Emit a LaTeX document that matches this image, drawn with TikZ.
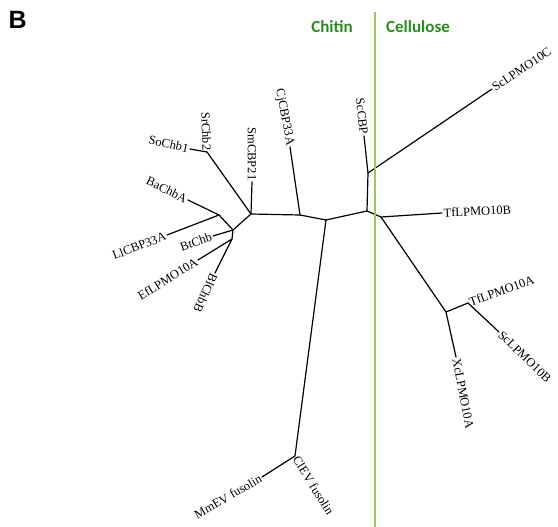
\documentclass[tikz,border=0pt]{standalone}
\usepackage{fontspec}
\setmainfont{Liberation Serif}
\newfontfamily\greenfont{Carlito}
\newfontfamily\panelfont{Liberation Sans}
\definecolor{chitgreen}{RGB}{40,140,30}
\definecolor{linegreen}{RGB}{160,200,90}
\begin{document}
\begin{tikzpicture}[x=1pt,y=-1pt,
  branch/.style={line width=1.2pt, black, line join=round, line cap=round},
  leaf/.style={font=\fontsize{12.5}{14}\selectfont, inner sep=1.5pt},
  side/.style={font=\greenfont\bfseries\fontsize{17}{18}\selectfont, text=chitgreen, anchor=base, inner sep=0pt}]
\useasboundingbox (0,0) rectangle (558,527);
% internal nodes
\coordinate (n1) at (251,214);
\coordinate (n2) at (233,230);
\coordinate (n3) at (219,215);
\coordinate (n5) at (207,152);
\coordinate (n6) at (232,239);
\coordinate (n4) at (300,215);
\coordinate (n7) at (326,220);
\coordinate (n8) at (295,456);
\coordinate (n9) at (367,211);
\coordinate (n10) at (368,173);
\coordinate (n11) at (381,217);
\coordinate (n12) at (446,312);
\coordinate (n13) at (468,303);
% leaf ends
\coordinate (lSm) at (252,182);
\coordinate (lSo) at (190,149);
\coordinate (lBa) at (188,200);
\coordinate (lLl) at (167,235);
\coordinate (lBt) at (213,236);
\coordinate (lEf) at (198,260);
\coordinate (lBl) at (215,273);
\coordinate (lCj) at (290,147);
\coordinate (lMm) at (262,477);
\coordinate (lSc) at (364,136);
\coordinate (lScC) at (492,89);
\coordinate (lTfB) at (442,213);
\coordinate (lXc) at (456,357);
\coordinate (lScB) at (499,332);
% branches
\draw[branch] (n5) -- (n1) -- (n4) -- (n7) -- (n9) -- (n11) -- (n12) -- (n13);
\draw[branch] (lSo) -- (n5);
\draw[branch] (n1) -- (lSm);
\draw[branch] (n1) -- (n2) -- (n3);
\draw[branch] (lBa) -- (n3) -- (lLl);
\draw[branch] (n2) -- (lBt);
\draw[branch] (n2) -- (n6);
\draw[branch] (lEf) -- (n6) -- (lBl);
\draw[branch] (n4) -- (lCj);
\draw[branch] (n7) -- (n8) -- (lMm);
\draw[branch] (n9) -- (n10) -- (lSc);
\draw[branch] (n10) -- (lScC);
\draw[branch] (n11) -- (lTfB);
\draw[branch] (n12) -- (lXc);
\draw[branch] (n13) -- (lScB);
% labels
\node[leaf, rotate=-88, anchor=east] (tSr) at (n5) {SrChb2};
\node[leaf, rotate=-13, anchor=east] (tSo) at (lSo) {SoChb1};
\node[leaf, rotate=-90, anchor=east] (tSm) at (lSm) {SmCBP21};
\node[leaf, rotate=-26, anchor=east] (tBa) at (lBa) {BaChbA};
\node[leaf, rotate=21, anchor=east] (tLl) at (lLl) {LlCBP33A};
\node[leaf, rotate=19, anchor=east] (tBt) at (lBt) {BtChb};
\node[leaf, rotate=32, anchor=east] (tEf) at (lEf) {EfLPMO10A};
\node[leaf, rotate=-115, anchor=west] (tBl) at (lBl) {BlChbB};
\node[leaf, rotate=-79, anchor=east] (tCj) at (lCj) {CjCBP33A};
\node[leaf, rotate=30, anchor=east] (tMm) at (lMm) {MmEV fusolin};
\node[leaf, rotate=-58, anchor=west] (tCl) at (n8) {ClEV fusolin};
\node[leaf, rotate=-84, anchor=east] (tSc) at (lSc) {ScCBP};
\node[leaf, rotate=34, anchor=west] (tScC) at (lScC) {ScLPMO10C};
\node[leaf, rotate=3, anchor=west] (tTfB) at (lTfB) {TfLPMO10B};
\node[leaf, rotate=20, anchor=west] (tTfA) at (n13) {TfLPMO10A};
\node[leaf, rotate=-44, anchor=west] (tScB) at (lScB) {ScLPMO10B};
\node[leaf, rotate=-79, anchor=west] (tXc) at (lXc) {XcLPMO10A};
% divider
\coordinate (gTop) at (375,12);
\coordinate (gBot) at (375,527);
\draw[linegreen, line width=2pt] (gTop) -- (gBot);
\node[side] (chitin) at (332,33) {Chitin};
\node[side] (cellulose) at (418,33) {Cellulose};
\node[font=\panelfont\bfseries\fontsize{25}{25}\selectfont, anchor=base west, inner sep=0pt] (panel) at (8.5,29) {B};
\end{tikzpicture}
\end{document}
